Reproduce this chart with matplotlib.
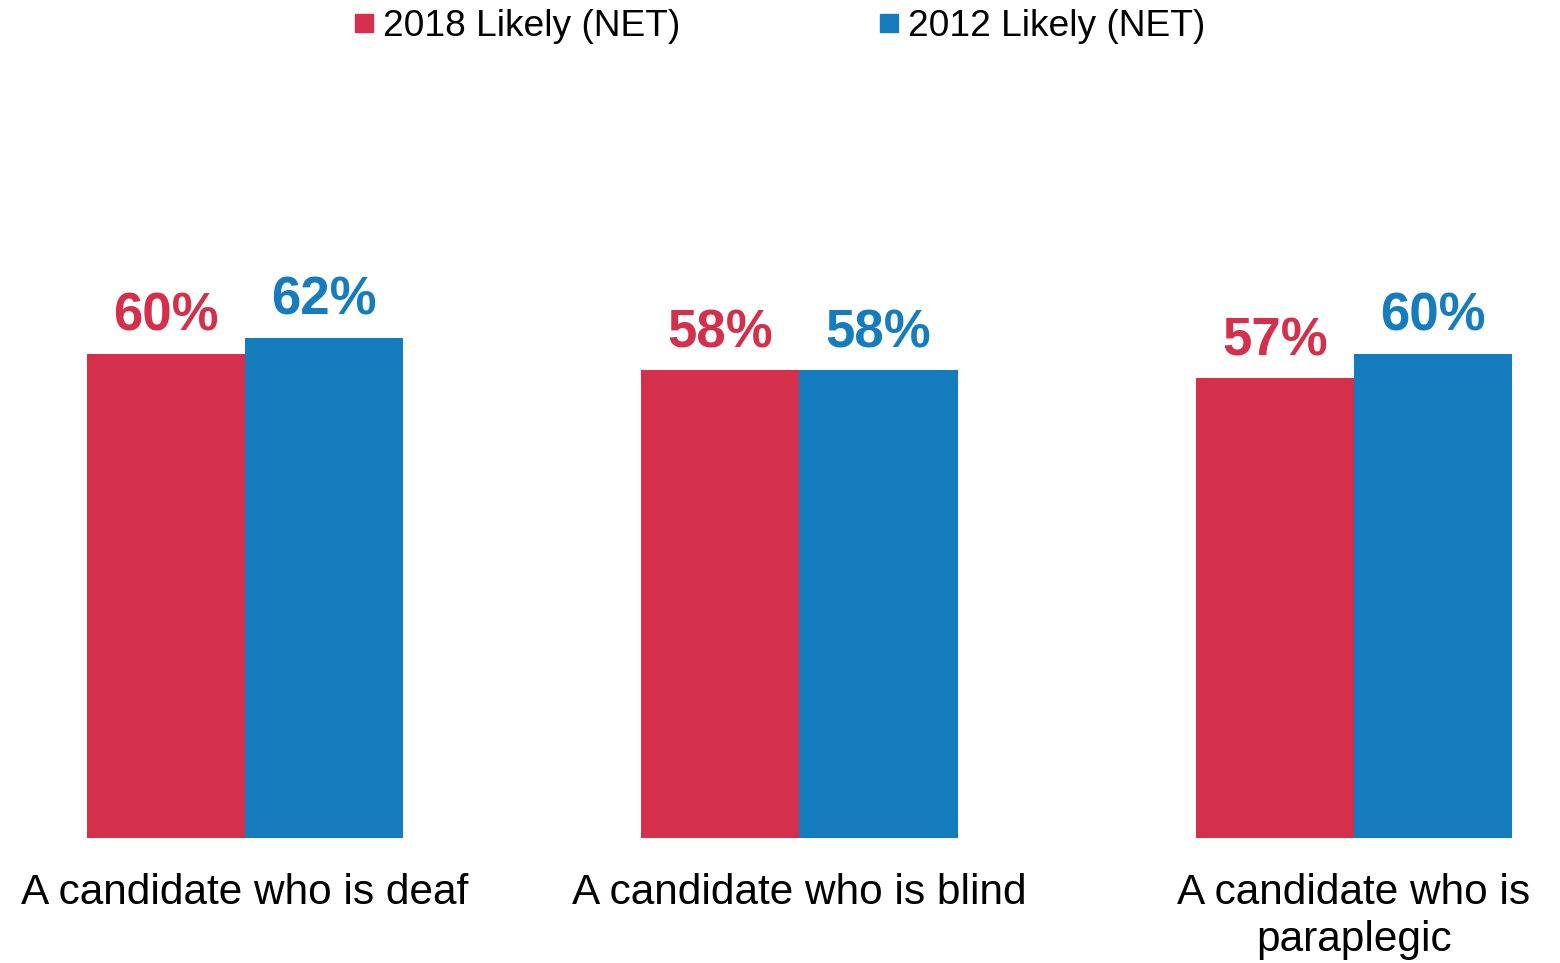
import numpy as np
import matplotlib.pyplot as plt
from matplotlib.lines import Line2D

plt.rcParams['font.family'] = ['Liberation Sans', 'DejaVu Sans']

categories = ["A candidate who is deaf", "A candidate who is blind",
              "A candidate who is\nparaplegic"]
series_names = ["2018 Likely (NET)", "2012 Likely (NET)"]
likely_2018 = [60, 58, 57]
likely_2012 = [62, 58, 60]

red = "#D4304C"
blue = "#157DBD"

fig = plt.figure(figsize=(15.6, 9.63), dpi=100)
ax = fig.add_axes([0, 125 / 963, 1, 838 / 963])

x = np.arange(len(categories))
w = 0.285
b1 = ax.bar(x - w / 2, likely_2018, w, color=red)
b2 = ax.bar(x + w / 2, likely_2012, w, color=blue)

# percentage labels above each bar
for bars, vals, col in [(b1, likely_2018, red), (b2, likely_2012, blue)]:
    for bar, v in zip(bars, vals):
        ax.annotate(f"{v}%", (bar.get_x() + bar.get_width() / 2, v),
                    xytext=(0, 8.5), textcoords="offset points",
                    ha="center", va="bottom", fontsize=38,
                    fontweight="bold", color=col)

ax.set_xlim(-245 / 554.5, 1315 / 554.5)
ax.set_ylim(0, 838 / 8.07)
ax.set_xticks(x)
ax.set_xticklabels(categories, fontsize=30.5, linespacing=1.2)
ax.tick_params(axis="x", length=0, pad=25.5)
ax.set_yticks([])
for s in ax.spines.values():
    s.set_visible(False)
ax.patch.set_alpha(0)

handles = [Line2D([], [], marker="s", linestyle="none", markersize=12.5,
                  color=c) for c in (red, blue)]
fig.legend(handles, series_names, loc="upper center",
           bbox_to_anchor=(0.5, 1.025), ncol=2, frameon=False,
           fontsize=26.7, handlelength=0.5, handletextpad=0.25,
           columnspacing=5.4)

fig.savefig("out.png", dpi=100)
